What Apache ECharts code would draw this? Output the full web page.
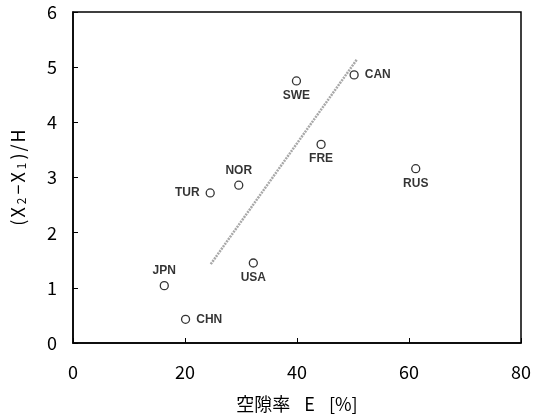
<!DOCTYPE html>
<html><head><meta charset="utf-8">
<script src="https://cdn.jsdelivr.net/npm/echarts@6/dist/echarts.min.js"></script>
<style>html,body{margin:0;padding:0;background:#fff}#c{width:537px;height:419px}</style>
</head><body><div id="c"></div>
<script>
var countries = ['TUR','NOR','SWE','CAN','FRE','RUS','JPN','CHN','USA'];
var voidRatio = [24.5, 29.6, 39.9, 50.2, 44.3, 61.2, 16.3, 20.1, 32.2];
var ratioXH = [2.72, 2.86, 4.75, 4.86, 3.60, 3.16, 1.04, 0.43, 1.45];
var labelPos = ['left','top','bottom','right','bottom','bottom','top','right','bottom'];
var trendX = [24.6, 50.7];
var trendY = [1.43, 5.14];
var xTicks = [0, 20, 40, 60, 80];
var yTicks = [0, 1, 2, 3, 4, 5, 6];

var pts = countries.map(function(c, i){
  return {value:[voidRatio[i], ratioXH[i]], name:c,
    label:{position:labelPos[i], distance: labelPos[i]==='left'||labelPos[i]==='right'?6:4}};
});
var trend = trendX.map(function(x,i){return [x, trendY[i]];});
var font = 'Noto Sans CJK JP';
var chart = echarts.init(document.getElementById('c'));
chart.setOption({
  animation:false,
  grid:{left:73,right:16,top:12,bottom:76,show:true,borderColor:'#000',borderWidth:1.5},
  xAxis:{type:'value',min:0,max:80,interval:20,
    axisLine:{show:true,lineStyle:{color:'#000',width:1.5}},
    axisTick:{show:true,inside:true,length:5,lineStyle:{color:'#000'}},
    axisLabel:{color:'#000',fontSize:18,fontFamily:font,margin:20,
      formatter:function(v){return xTicks.indexOf(v)>=0?String(v):'';}},
    splitLine:{show:false},
    name:'{c|空隙率}{e|E}{p|[%]}',nameLocation:'middle',nameGap:52,
    nameTextStyle:{color:'#000',fontSize:18,fontFamily:font,
      rich:{c:{fontSize:18,fontFamily:font,color:'#000'},
            e:{fontSize:18,fontFamily:font,color:'#000',padding:[0,14,0,14]},
            p:{fontSize:18,fontFamily:font,color:'#000'}}}},
  yAxis:{type:'value',min:0,max:6,interval:1,
    axisLine:{show:true,lineStyle:{color:'#000',width:1.5}},
    axisTick:{show:true,inside:true,length:5,lineStyle:{color:'#000'}},
    axisLabel:{color:'#000',fontSize:18,fontFamily:font,margin:16,
      formatter:function(v){return yTicks.indexOf(v)>=0?String(v):'';}},
    splitLine:{show:false},
    name:'{a|(}{a|X}{s|2}{a|−}{a|X}{s|1}{a|)}{a|/}{a|H}',nameLocation:'middle',nameGap:46,nameRotate:90,
    nameTextStyle:{color:'#000',fontFamily:font,
      rich:{a:{fontSize:18,fontFamily:font,color:'#000',padding:[0,1,0,1]},
            s:{fontSize:12,fontFamily:font,color:'#000',verticalAlign:'bottom',padding:[4,2,0,2]}}}},
  series:[
    {type:'line',data:trend,symbol:'none',silent:true,
      lineStyle:{color:'#a8a8a8',width:2.5,type:[2,1]}},
    {type:'scatter',data:pts,symbol:'circle',symbolSize:8,
      itemStyle:{color:'#fff',borderColor:'#000',borderWidth:1.3},
      label:{show:true,formatter:'{b}',color:'#000',fontSize:12,fontWeight:'bold',fontFamily:'Liberation Sans'}}
  ]
});
</script></body></html>
